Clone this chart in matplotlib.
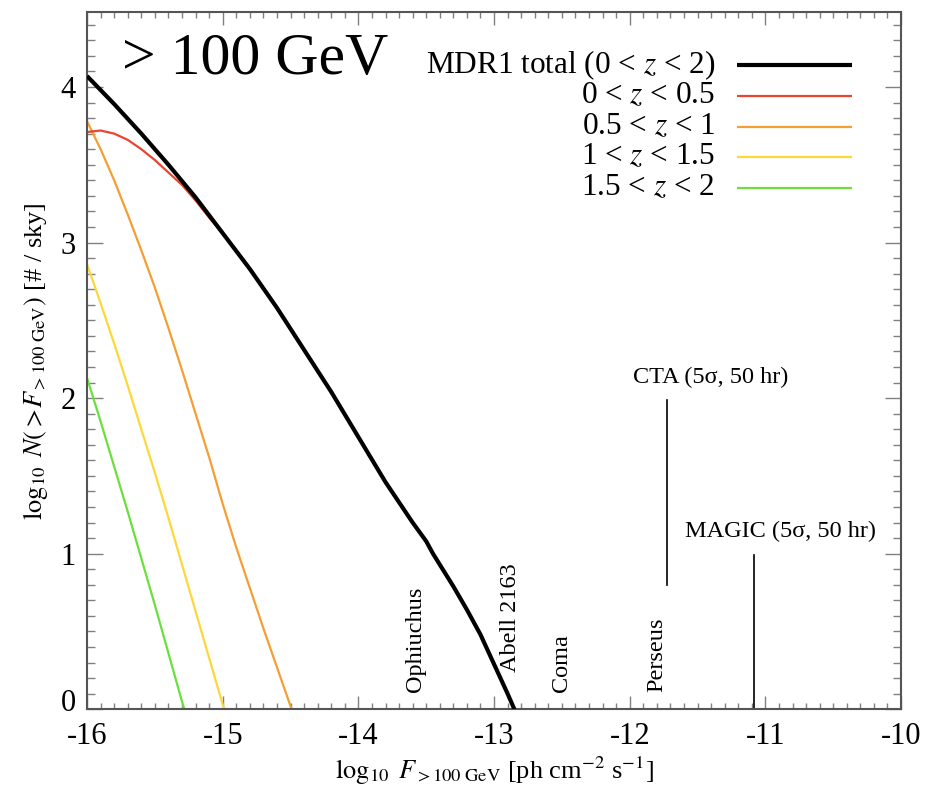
import numpy as np
import matplotlib
matplotlib.use('Agg')
import matplotlib.pyplot as plt
import matplotlib.transforms as mtransforms

plt.rcParams['font.family'] = ['Liberation Serif', 'DejaVu Serif']
plt.rcParams['mathtext.fontset'] = 'stix'
plt.rcParams['axes.unicode_minus'] = False

# log10 flux grid and log10 N(>F)
x_total = [-16.0, -15.8, -15.6, -15.4, -15.2, -15.0, -14.8, -14.6, -14.4, -14.2, -14.0,
           -13.8, -13.7, -13.6, -13.5, -13.45, -13.4, -13.3, -13.2, -13.1, -13.0, -12.9, -12.85]
y_total = [4.07, 3.89, 3.70, 3.50, 3.29, 3.06, 2.83, 2.58, 2.31, 2.04, 1.75,
           1.46, 1.33, 1.20, 1.08, 1.00, 0.93, 0.79, 0.64, 0.48, 0.29, 0.10, 0.0]

# 0 < z < 0.5 runs under the total curve beyond about -15
x_z0 = [-16.0, -15.9, -15.8, -15.7, -15.6, -15.5, -15.4, -15.3, -15.2, -15.1, -15.0,
        -14.8, -14.6, -14.4, -14.2, -14.0, -13.8, -13.7, -13.6, -13.5, -13.45, -13.4,
        -13.3, -13.2, -13.1, -13.0, -12.9, -12.85]
y_z0 = [3.71, 3.72, 3.70, 3.66, 3.60, 3.53, 3.45, 3.37, 3.27, 3.16, 3.06,
        2.83, 2.58, 2.31, 2.04, 1.75, 1.46, 1.33, 1.20, 1.08, 1.00, 0.93,
        0.79, 0.64, 0.48, 0.29, 0.10, 0.0]

x_z1 = [-16.0, -15.9, -15.8, -15.7, -15.6, -15.5, -15.4, -15.3, -15.2, -15.1, -15.0,
        -14.9, -14.8, -14.7, -14.6, -14.5, -14.49]
y_z1 = [3.78, 3.60, 3.40, 3.18, 2.95, 2.71, 2.45, 2.18, 1.90, 1.62, 1.32,
        1.04, 0.78, 0.52, 0.27, 0.02, 0.0]

x_z2 = [-16.0, -15.9, -15.8, -15.7, -15.6, -15.5, -15.4, -15.3, -15.2, -15.1, -15.0, -14.985]
y_z2 = [2.86, 2.61, 2.35, 2.08, 1.80, 1.52, 1.23, 0.93, 0.63, 0.33, 0.03, 0.0]

x_z3 = [-16.0, -15.9, -15.8, -15.7, -15.6, -15.5, -15.4, -15.3, -15.283]
y_z3 = [2.13, 1.85, 1.56, 1.27, 0.97, 0.67, 0.36, 0.05, 0.0]

labels = [r'MDR1 total (0 < $z$ < 2)', r'0 < $z$ < 0.5', r'0.5 < $z$ < 1',
          r'1 < $z$ < 1.5', r'1.5 < $z$ < 2']
colors = ['black', '#ea4530', '#f59e33', '#fcd83a', '#6be03c']

clusters = ['Ophiuchus', 'Abell 2163', 'Coma', 'Perseus']
cluster_x = [-13.58, -12.88, -12.50, -11.80]
cluster_y = [0.11, 0.24, 0.11, 0.11]

# instrument sensitivities: x, line bottom, line top
cta = (-11.728, 0.80, 1.99)
magic = (-11.083, 0.0, 0.99)

fig = plt.figure(figsize=(9.27, 7.91), dpi=100)
ax = fig.add_axes([0.0939, 0.1033, 0.8781, 0.8812])

series = [(x_total, y_total), (x_z0, y_z0), (x_z1, y_z1), (x_z2, y_z2), (x_z3, y_z3)]
for i in [4, 3, 2, 1, 0]:
    xs, ys = series[i]
    ax.plot(xs, ys, color=colors[i], lw=3.0 if i == 0 else 1.6, zorder=3 if i == 0 else 2,
            solid_capstyle='butt')

# detector limits
ax.plot([cta[0], cta[0]], [cta[1], cta[2]], color='black', lw=1.2)
ax.plot([magic[0], magic[0]], [magic[1], magic[2]], color='black', lw=1.2)
ax.text(-11.40, 2.13, 'CTA (5σ, 50 hr)', fontsize=17.5, ha='center', va='center')
ax.text(-10.886, 1.142, 'MAGIC (5σ, 50 hr)', fontsize=17.5, ha='center', va='center')

for name, cx, cy in zip(clusters, cluster_x, cluster_y):
    ax.text(cx, cy, name, rotation=90, fontsize=17.5, ha='center', va='bottom')

ax.text(-15.742, 4.085, '> 100 GeV', fontsize=43, ha='left', va='baseline')

# legend: label on the left, sample line on the right
row_y = [0.9244, 0.8799, 0.8354, 0.7924, 0.7479]
for lab, c, yy, i in zip(labels, colors, row_y, range(5)):
    ax.text(0.7715, yy, lab, transform=ax.transAxes, fontsize=22.5, ha='right', va='center')
    ax.plot([0.7985, 0.9398], [yy, yy], transform=ax.transAxes, color=c,
            lw=3.0 if i == 0 else 1.6, solid_capstyle='butt')

ax.set_xlim(-16, -10)
ax.set_ylim(0, 4.48)
ax.set_xticks(np.arange(-16, -9, 1))
ax.set_xticks(np.arange(-16, -10, 0.1), minor=True)
ax.set_yticks([0, 1, 2, 3, 4])
ax.set_yticks(np.arange(0, 4.48, 0.1), minor=True)
ax.tick_params(which='both', direction='in', top=True, right=True, color='#808080', width=1.0)
ax.tick_params(axis='x', which='major', length=9.5, labelsize=22, pad=9)
ax.tick_params(axis='x', which='minor', length=4.5)
ax.tick_params(axis='y', which='major', length=11.5, labelsize=22, pad=8)
ax.tick_params(axis='y', which='minor', length=5.5)
for s in ax.spines.values():
    s.set_color('#555555')
    s.set_linewidth(1.5)

# the "0" label sits a little above the axis in the original
lab0 = ax.get_yticklabels()[0]
lab0.set_transform(lab0.get_transform() + mtransforms.ScaledTranslation(0, 7 / 72, fig.dpi_scale_trans))

ax.set_xlabel(r'$\log_{10}\ F_{>100\ \mathrm{GeV}}$ [ph cm$^{-2}$ s$^{-1}$]', fontsize=19, labelpad=3)
ax.set_ylabel(r'$\log_{10}\ N(>\!F_{>100\ \mathrm{GeV}})$ [# / sky]', fontsize=19, labelpad=8)

fig.savefig('out.png', dpi=100)
